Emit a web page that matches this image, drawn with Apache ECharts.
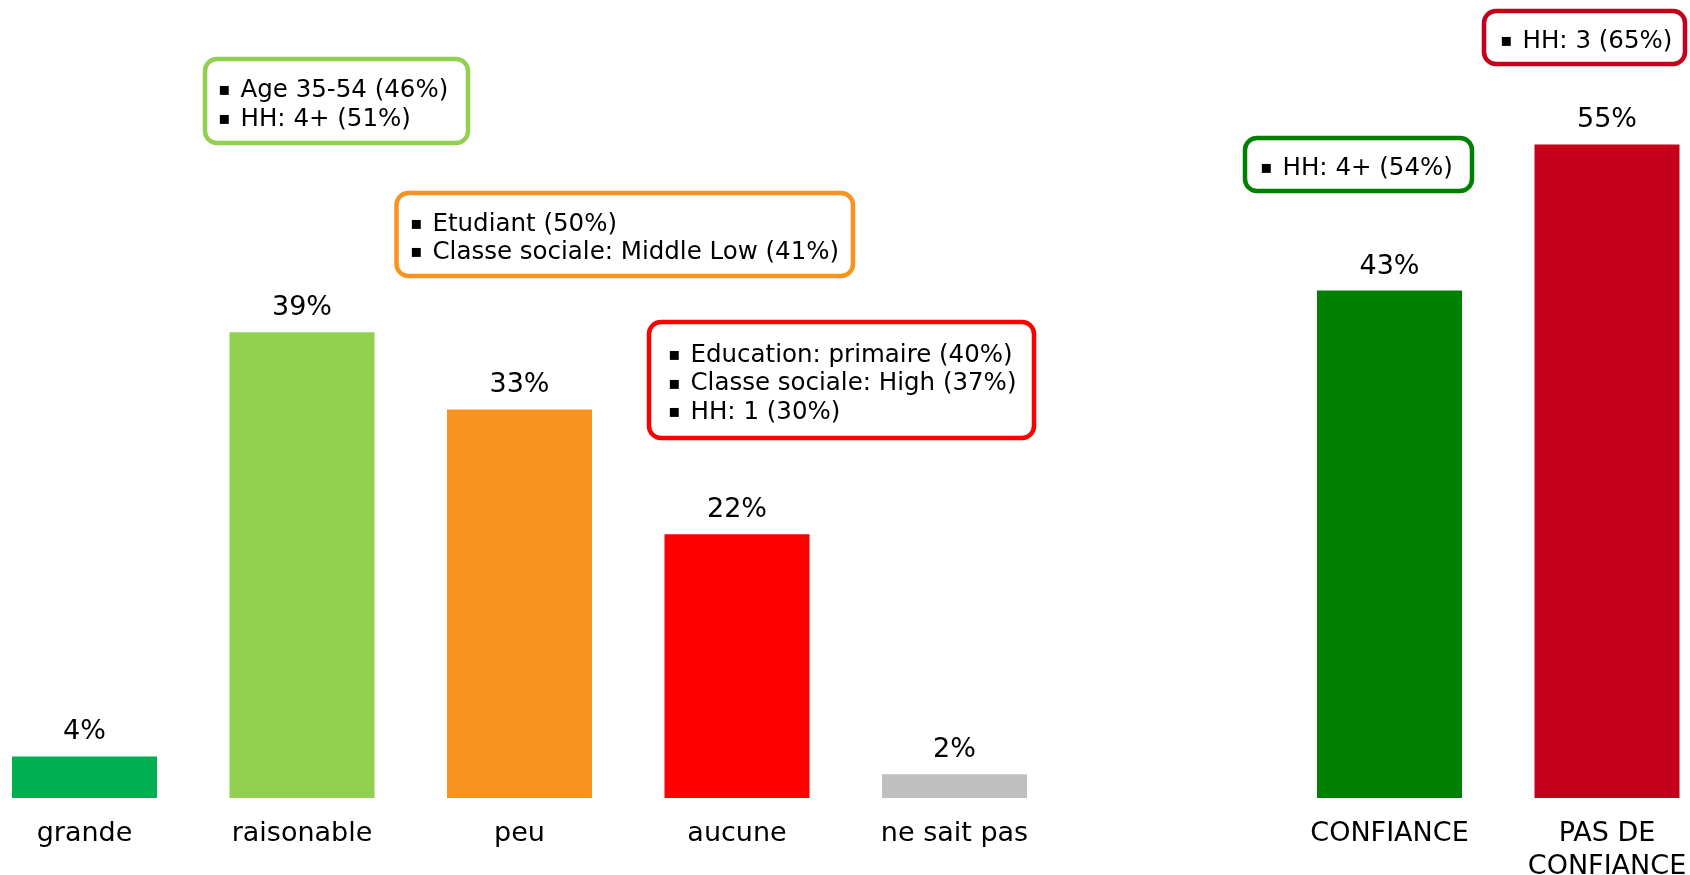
<!DOCTYPE html>
<html>
<head>
<meta charset="utf-8">
<title>Confiance</title>
<script src="https://cdn.jsdelivr.net/npm/echarts@6/dist/echarts.min.js"></script>
<style>
    html, body { margin: 0; padding: 0; background: #fff; }
    #container { width: 1690px; height: 875px; }
</style>
</head>
<body>
<div id="container"></div>
<script>
// données (en %)
var categories = ['grande', 'raisonable', 'peu', 'aucune', 'ne sait pas', '', 'CONFIANCE', 'PAS DE\nCONFIANCE'];
var values = [3.5, 39.2, 32.7, 22.2, 2.0, '-', 42.7, 55.0];

var barColors = ['#00B050', '#92D050', '#F7931E', '#FF0000', '#BFBFBF', '#fff', '#008000', '#C5001A'];

// profils sur-représentés
var noteRaisonable = ['Age 35-54 (46%)', 'HH: 4+ (51%)'];
var notePeu = ['Etudiant (50%)', 'Classe sociale: Middle Low (41%)'];
var noteAucune = ['Education: primaire (40%)', 'Classe sociale: High (37%)', 'HH: 1 (30%)'];
var noteConfiance = ['HH: 4+ (54%)'];
var notePasConfiance = ['HH: 3 (65%)'];

var FONT = '"DejaVu Sans", Verdana, sans-serif';

// encadré arrondi avec puces
function noteBox(x, y, w, h, color, bulletX, lines) {
    return {
        type: 'group',
        x: x,
        y: y,
        children: [
            {
                type: 'rect',
                shape: { x: 0, y: 0, width: w, height: h, r: 12 },
                style: { fill: '#fff', stroke: color, lineWidth: 4.5 }
            },
            {
                type: 'text',
                x: bulletX - x,
                y: h / 2 + 4,
                style: {
                    text: lines.map(function (l) { return '{b|▪}{t|' + l + '}'; }).join('\n'),
                    verticalAlign: 'middle',
                    align: 'left',
                    rich: {
                        b: { fontSize: 18, width: 22.5, lineHeight: 28.5, fill: '#000', fontFamily: FONT },
                        t: { fontSize: 24.5, lineHeight: 28.5, fill: '#000', fontFamily: FONT }
                    }
                }
            }
        ]
    };
}

var dom = document.getElementById("container");
var myChart = echarts.init(dom);

var data = values.map(function (v, i) {
    return { value: v, itemStyle: { color: barColors[i] } };
});

var option = {
    backgroundColor: '#fff',
    animation: false,
    grid: {
        left: 84.5, right: 83, top: 85, bottom: 77,
        containLabel: false,
        outerBoundsMode: 'none'
    },
    xAxis: {
        type: 'category',
        data: categories,
        boundaryGap: false,
        axisLine: { show: false },
        axisTick: { show: false },
        splitLine: { show: false },
        axisLabel: {
            interval: 0,
            margin: 19,
            fontSize: 27,
            lineHeight: 33,
            color: '#000',
            fontFamily: FONT
        }
    },
    yAxis: {
        type: 'value',
        min: 0,
        max: 60,
        show: false
    },
    series: [
        {
            type: 'bar',
            data: data,
            barWidth: 145,
            clip: false,
            label: {
                show: true,
                position: 'top',
                distance: 10.5,
                fontSize: 27,
                color: '#000',
                fontFamily: FONT,
                formatter: function (p) { return Math.round(p.value) + '%'; }
            }
        }
    ],
    graphic: [
        noteBox(205, 59, 263, 84, '#92D050', 218, noteRaisonable),
        noteBox(396.5, 193, 456.5, 83, '#F7931E', 410, notePeu),
        noteBox(649, 322, 385, 116, '#FF0000', 668, noteAucune),
        noteBox(1245, 138, 227, 53, '#008000', 1260, noteConfiance),
        noteBox(1484, 11, 201, 53, '#C5001A', 1500, notePasConfiance)
    ]
};

if (option && typeof option === 'object') {
    myChart.setOption(option);
}
</script>
</body>
</html>
